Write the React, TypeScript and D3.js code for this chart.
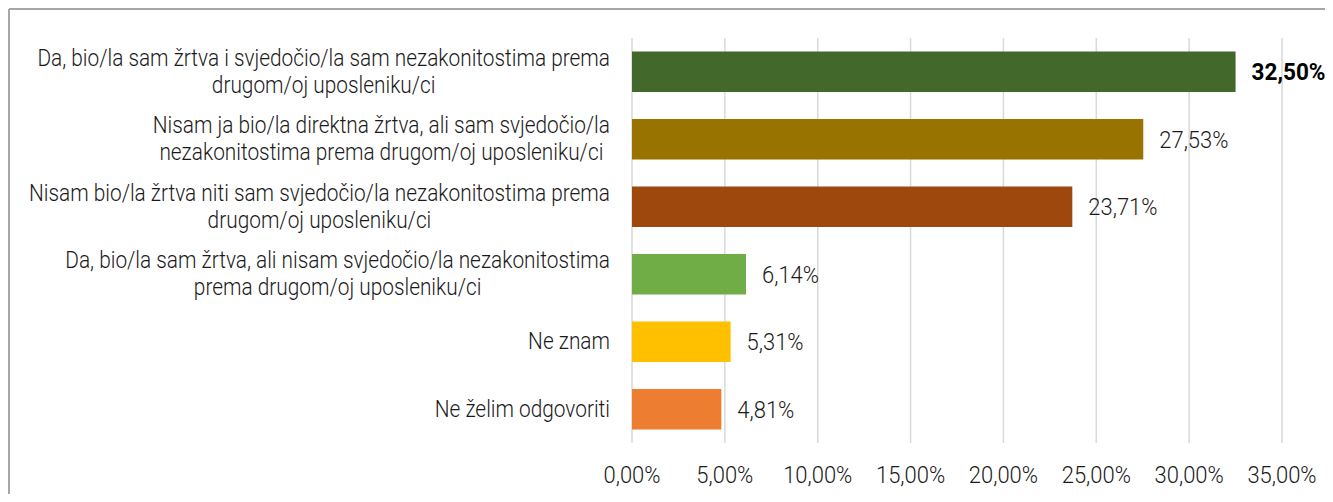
import React, { useEffect, useRef } from "react";
import * as d3 from "d3";

// categories (each label split into its wrapped lines), values and colours
const categories: string[][] = [
  ["Da, bio/la sam žrtva i svjedočio/la sam nezakonitostima prema", "drugom/oj uposleniku/ci"],
  ["Nisam ja bio/la direktna žrtva, ali sam svjedočio/la", "nezakonitostima prema drugom/oj uposleniku/ci"],
  ["Nisam bio/la žrtva niti sam svjedočio/la nezakonitostima prema", "drugom/oj uposleniku/ci"],
  ["Da, bio/la sam žrtva, ali nisam svjedočio/la nezakonitostima", "prema drugom/oj uposleniku/ci"],
  ["Ne znam"],
  ["Ne želim odgovoriti"],
];
const values: number[] = [0.325, 0.2753, 0.2371, 0.0614, 0.0531, 0.0481];
const colors: string[] = ["#43682B", "#997300", "#9E480E", "#70AD47", "#FFC000", "#ED7D31"];
const ticks: number[] = [0, 0.05, 0.1, 0.15, 0.2, 0.25, 0.3, 0.35];

const width = 1325;
const height = 486;
const margin = { top: 30, right: 51, bottom: 51, left: 624 };
const font = "Roboto, sans-serif";
const fontSize = 24;
const labelStretch = 0.868; // horizontal squeeze to imitate the condensed face
const numberStretch = 0.915;

const fmt = (v: number) => (v * 100).toFixed(2).replace(".", ",") + "%";

const App = () => {
  const svgRef = useRef<SVGSVGElement>(null);

  useEffect(() => {
    const svg = d3.select(svgRef.current);
    svg.selectAll("*").remove();

    const x = d3
      .scaleLinear()
      .domain([0, 0.35])
      .range([margin.left, width - margin.right]);

    const y = d3
      .scaleBand<number>()
      .domain(d3.range(values.length))
      .range([margin.top, height - margin.bottom])
      .paddingInner(0.4)
      .paddingOuter(0.2);

    // chart frame (only top and left edges are inside the window)
    svg.append("line").attr("x1", 1).attr("x2", width).attr("y1", 1).attr("y2", 1)
      .attr("stroke", "#a6a6a6").attr("stroke-width", 2);
    svg.append("line").attr("x1", 1).attr("x2", 1).attr("y1", 1).attr("y2", height)
      .attr("stroke", "#a6a6a6").attr("stroke-width", 2);

    // gridlines
    svg.append("g")
      .selectAll("line")
      .data(ticks)
      .join("line")
      .attr("x1", (d) => x(d))
      .attr("x2", (d) => x(d))
      .attr("y1", margin.top)
      .attr("y2", height - margin.bottom)
      .attr("stroke", "#d9d9d9")
      .attr("stroke-width", 1.5);

    // tick labels
    svg.append("g")
      .selectAll("text")
      .data(ticks)
      .join("text")
      .attr("transform", (d) => `translate(${x(d)},${height - 11}) scale(${numberStretch},1)`)
      .attr("text-anchor", "middle")
      .attr("font-family", font)
      .attr("font-size", fontSize)
      .attr("font-weight", 300)
      .attr("fill", "#1a1a1a")
      .text((d) => fmt(d));

    // bars
    svg.append("g")
      .selectAll("rect")
      .data(values)
      .join("rect")
      .attr("x", x(0))
      .attr("y", (d, i) => y(i)!)
      .attr("width", (d) => x(d) - x(0))
      .attr("height", y.bandwidth())
      .attr("fill", (d, i) => colors[i]);

    // value labels (the largest one is bold)
    svg.append("g")
      .selectAll("text")
      .data(values)
      .join("text")
      .attr("transform", (d, i) =>
        `translate(${x(d) + 16},${y(i)! + y.bandwidth() / 2}) scale(${i === 0 ? 0.94 : numberStretch},1)`)
      .attr("dy", "0.35em")
      .attr("font-family", font)
      .attr("font-size", fontSize)
      .attr("font-weight", (d, i) => (i === 0 ? "bold" : 300))
      .attr("fill", (d, i) => (i === 0 ? "#000" : "#1a1a1a"))
      .text((d) => fmt(d));

    // category labels: lines centred on each other, block right-aligned
    const labelRight = margin.left - 22;
    const lineH = 27;
    categories.forEach((lines, i) => {
      const g = svg.append("g");
      const cy = y(i)! + y.bandwidth() / 2;
      const texts = lines.map((l) =>
        g.append("text")
          .attr("dy", "0.35em")
          .attr("text-anchor", "middle")
          .attr("font-family", font)
          .attr("font-size", fontSize)
          .attr("font-weight", 300)
          .attr("fill", "#1a1a1a")
          .text(l)
      );
      const w = (d3.max(texts, (t) => (t.node() as SVGTextElement).getComputedTextLength()) || 0) * labelStretch;
      texts.forEach((t, j) =>
        t.attr("transform",
          `translate(${labelRight - w / 2},${cy + (j - (lines.length - 1) / 2) * lineH - 1}) scale(${labelStretch},1)`)
      );
    });
  }, []);

  return <svg ref={svgRef} width={width} height={height} style={{ display: "block" }} />;
};

export default App;
